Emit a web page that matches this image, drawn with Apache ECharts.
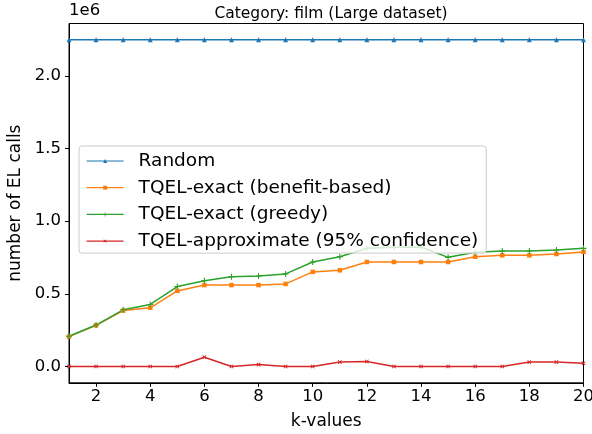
<!DOCTYPE html>
<html>
<head>
<meta charset="utf-8">
<script src="https://cdn.jsdelivr.net/npm/echarts@6/dist/echarts.min.js"></script>
<style>html,body{margin:0;padding:0;background:#fff}#c{width:592px;height:434px}</style>
</head>
<body>
<div id="c"></div>
<script>
var ks = [1,2,3,4,5,6,7,8,9,10,11,12,13,14,15,16,17,18,19,20];
var randomVals = [2248000,2248000,2248000,2248000,2248000,2248000,2248000,2248000,2248000,2248000,2248000,2248000,2248000,2248000,2248000,2248000,2248000,2248000,2248000,2248000];
var benefitVals = [205000,283000,385000,404000,520000,560000,560000,560000,568000,651000,662000,719000,719000,719000,719000,755000,765000,765000,774000,788000];
var greedyVals = [208000,285000,390000,427000,550000,590000,618000,623000,637000,719000,755000,813000,820000,822000,751000,786000,795000,795000,801000,813000];
var approxVals = [0,0,0,0,0,64000,0,13000,0,0,30000,34000,0,0,0,0,0,30000,30000,22000];
var xTicks = [2,4,6,8,10,12,14,16,18,20];
var yTicks = [0,500000,1000000,1500000,2000000];
var seriesNames = ['Random','TQEL-exact (benefit-based)','TQEL-exact (greedy)','TQEL-approximate (95% confidence)'];

function pairs(vals){ return ks.map(function(k,i){ return [k, vals[i]]; }); }
var plusPath = 'path://M-0.18,-1H0.18V-0.18H1V0.18H0.18V1H-0.18V0.18H-1V-0.18H-0.18Z';
var F = 'DejaVu Sans';
var chart = echarts.init(document.getElementById('c'));
function mk(name, vals, color, symbol, size, rot){
  return {
    name: name, type: 'line', data: pairs(vals), symbol: symbol, symbolSize: size,
    symbolRotate: rot || 0, showSymbol: true,
    lineStyle: {color: color, width: 1.5}, itemStyle: {color: color},
    emphasis: {disabled: true}, animation: false
  };
}
chart.setOption({
  animation: false,
  title: {text: 'Category: film (Large dataset)', left: 326, textAlign: 'center', top: 1,
    textStyle: {fontFamily: F, fontSize: 15.5, fontWeight: 'normal', color: '#000'}},
  graphic: [{type: 'text', left: 69, top: 2, style: {text: '1e6', font: '16.5px "DejaVu Sans"', fill: '#000'}}],
  grid: {left: 69, right: 8.5, top: 23.5, bottom: 51.2, show: true, borderColor: '#000', borderWidth: 1,
    backgroundColor: 'transparent', outerBoundsMode: 'none', containLabel: false},
  legend: {
    orient: 'vertical', left: 79, top: 146, data: seriesNames,
    backgroundColor: 'rgba(255,255,255,0.8)', borderColor: '#cccccc', borderWidth: 1, borderRadius: 3,
    padding: [5, 8, 2, 7], itemWidth: 37, itemHeight: 5, itemGap: 6.7,
    lineStyle: {width: 1.2},
    textStyle: {fontFamily: F, fontSize: 18.5, color: '#000', lineHeight: 20, padding: [0,0,0,10]},
    selectedMode: false
  },
  xAxis: {
    type: 'value', min: 1, max: 20,
    name: 'k-values', nameLocation: 'middle', nameGap: 30,
    nameTextStyle: {fontFamily: F, fontSize: 17, color: '#000'},
    axisLine: {show: true, onZero: false, lineStyle: {color: '#000', width: 1}},
    axisTick: {show: true, length: 4, customValues: xTicks, lineStyle: {color: '#000'}},
    axisLabel: {customValues: xTicks, fontFamily: F, fontSize: 16.5, color: '#000', margin: 5},
    splitLine: {show: false}
  },
  yAxis: {
    type: 'value', min: -112400, max: 2360400,
    name: 'number of EL calls', nameLocation: 'middle', nameGap: 45,
    nameTextStyle: {fontFamily: F, fontSize: 17, color: '#000'},
    axisLine: {show: true, onZero: false, lineStyle: {color: '#000', width: 1}},
    axisTick: {show: true, length: 4, customValues: yTicks, lineStyle: {color: '#000'}},
    axisLabel: {customValues: yTicks, fontFamily: F, fontSize: 16.5, color: '#000', margin: 8,
      formatter: function(v){ return (v/1e6).toFixed(1); }},
    splitLine: {show: false}
  },
  series: [
    mk(seriesNames[0], randomVals, '#1f77b4', 'triangle', 5),
    mk(seriesNames[1], benefitVals, '#ff7f0e', 'rect', 4.5),
    mk(seriesNames[2], greedyVals, '#2ca02c', plusPath, 6),
    mk(seriesNames[3], approxVals, '#d62728', plusPath, 5, 45)
  ]
});
</script>
</body>
</html>
